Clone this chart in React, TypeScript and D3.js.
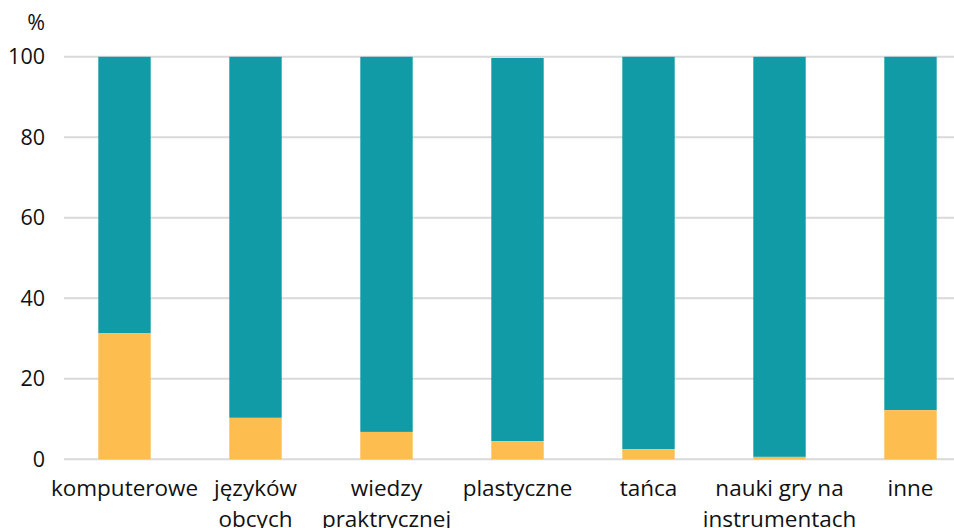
import React from "react";
import * as d3 from "d3";

const categories: string[][] = [
  ["komputerowe"],
  ["języków", "obcych"],
  ["wiedzy", "praktrycznej"],
  ["plastyczne"],
  ["tańca"],
  ["nauki gry na", "instrumentach"],
  ["inne"],
];
const yellowValues = [31.3, 10.3, 6.8, 4.5, 2.5, 0.6, 12.2];
const tealValues = [68.7, 89.7, 93.2, 95.2, 97.5, 99.4, 87.8];
const yTicks = [0, 20, 40, 60, 80, 100];

const W = 954;
const H = 528;
const TEAL = "#109ba6";
const YELLOW = "#fdbe4f";
const FONT = "'Open Sans', sans-serif";

export default function App() {
  const x = d3
    .scaleBand<number>()
    .domain(categories.map((_, i) => i))
    .range([59, 976])
    .paddingInner(0.6)
    .paddingOuter(0.3);
  const y = d3.scaleLinear().domain([0, 100]).range([459.3, 56.8]);

  return (
    <svg
      width={W}
      height={H}
      style={{ position: "absolute", left: 0, top: 0, background: "#fff" }}
      fontFamily={FONT}
    >
      {yTicks.map((t) => (
        <g key={t}>
          <line x1={64} x2={W} y1={y(t)} y2={y(t)} stroke="#d9d9d9" strokeWidth={2} />
          <text x={45} y={y(t)} dy="0.35em" textAnchor="end" fontSize={21.5} fill="#111">
            {t}
          </text>
        </g>
      ))}
      <text x={45} y={22} dy="0.35em" textAnchor="end" fontSize={21.5} fill="#111">
        %
      </text>
      {categories.map((c, i) => {
        const x0 = x(i)!;
        const bw = x.bandwidth();
        const yv = yellowValues[i];
        const tv = tealValues[i];
        return (
          <g key={i}>
            <rect x={x0} width={bw} y={y(yv + tv)} height={y(yv) - y(yv + tv)} fill={TEAL} />
            <rect x={x0} width={bw} y={y(yv)} height={y(0) - y(yv)} fill={YELLOW} />
            <text x={x0 + bw / 2} y={496} textAnchor="middle" fontSize={22.5} fill="#111">
              {c.map((line, j) => (
                <tspan key={j} x={x0 + bw / 2} dy={j === 0 ? 0 : 31}>
                  {line}
                </tspan>
              ))}
            </text>
          </g>
        );
      })}
    </svg>
  );
}
